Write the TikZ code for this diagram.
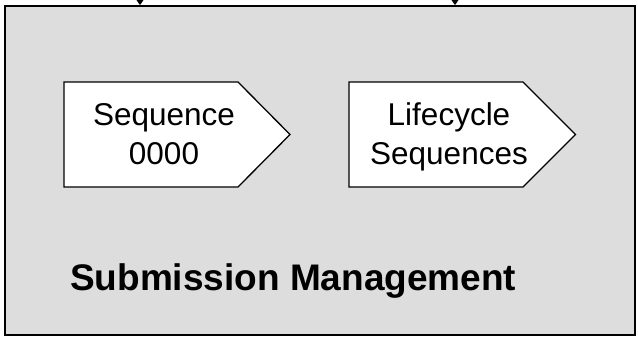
\documentclass[tikz,border=0pt]{standalone}
\usepackage{fontspec}
\setmainfont{Liberation Sans}
\usetikzlibrary{arrows.meta}
\definecolor{panelgray}{RGB}{221,221,221}
\begin{document}
\begin{tikzpicture}[x=1pt,y=-1pt,
  panel/.style={draw=black,line width=1.8pt,fill=panelgray,inner sep=0pt},
  tag/.style={draw=black,line width=1.3pt,fill=white,line join=miter},
  tagtext/.style={font=\fontsize{31.5}{39}\selectfont,align=center,inner sep=0pt,text depth=0pt},
  title/.style={font=\fontsize{37}{44}\selectfont\bfseries,anchor=base west,inner sep=0pt},
  feed/.style={-{Triangle[width=8pt,length=6pt]},line width=1pt}]
\useasboundingbox (0,0) rectangle (638,340);

% outer module panel
\node[panel,minimum width=630pt,minimum height=329pt] (panel) at (320,170.5) {};

% incoming flows from above
\coordinate (src1) at (140,-10);
\coordinate (src2) at (455,-10);
\draw[feed] (src1) -- (src1 |- panel.north);
\draw[feed] (src2) -- (src2 |- panel.north);

% pentagon step tags
\draw[tag] (64,82) -- (238,82) -- (290,134.5) -- (238,187) -- (64,187) -- cycle;
\draw[tag] (349,82) -- (523,82) -- (575.5,134.5) -- (523,187) -- (349,187) -- cycle;

\node[tagtext] (seq) at (164,134) {Sequence\\0000};
\node[tagtext] (life) at (449,134) {Lifecycle\\Sequences};

% module title
\node[title] (title) at (70,290) {Submission Management};
\end{tikzpicture}
\end{document}
